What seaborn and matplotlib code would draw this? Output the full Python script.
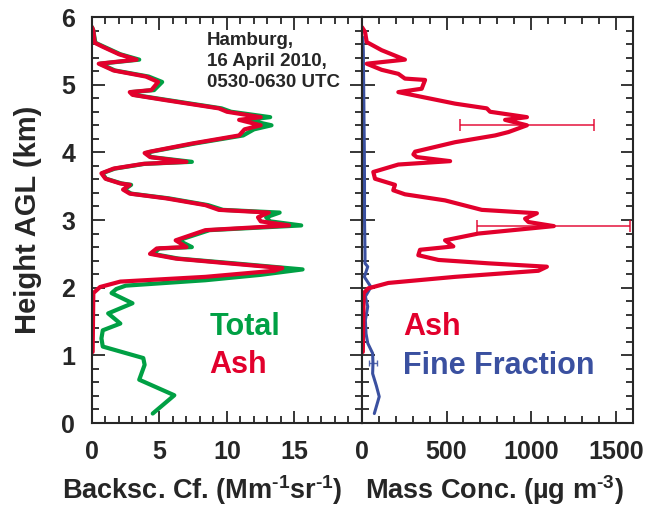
import matplotlib
matplotlib.use("Agg")
import matplotlib.pyplot as plt
from matplotlib.ticker import MultipleLocator
import seaborn as sns
import pandas as pd

# --- Backscatter coefficient (Mm^-1 sr^-1) versus height (km) ---
total_height = [5.85, 5.80, 5.62, 5.56, 5.45, 5.37, 5.31, 5.21, 5.12, 5.04, 4.92, 4.89,
                4.85, 4.77, 4.65, 4.60, 4.52, 4.48, 4.40, 4.34, 4.25, 4.13, 4.01, 3.99,
                3.93, 3.86, 3.83, 3.76, 3.69, 3.61, 3.54, 3.52, 3.45, 3.39, 3.32, 3.22,
                3.15, 3.11, 3.04, 2.98, 2.92, 2.85, 2.70, 2.60, 2.58, 2.50, 2.43, 2.36,
                2.27, 2.19, 2.11, 2.03, 1.98, 1.92, 1.77, 1.62, 1.47, 1.37, 1.25, 1.13,
                0.96, 0.86, 0.64, 0.41, 0.14]
total_bsc = [0.0, 0.1, 0.25, 0.9, 2.1, 3.5, 0.6, 1.7, 4.2, 5.2, 4.6, 2.9,
             3.1, 5.7, 9.6, 10.3, 13.2, 11.5, 13.3, 12.0, 11.2, 7.6, 4.4, 4.0,
             4.4, 7.4, 3.9, 1.7, 0.75, 1.05, 2.2, 2.9, 2.4, 2.9, 5.7, 8.6,
             9.7, 13.9, 12.9, 13.2, 15.5, 8.7, 6.4, 7.4, 5.0, 4.5, 6.4, 10.5,
             15.6, 12.5, 8.4, 2.5, 1.8, 1.45, 3.0, 1.2, 2.1, 0.8, 0.7, 0.8,
             3.8, 3.9, 3.5, 6.1, 4.5]

ash_height = [5.85, 5.80, 5.62, 5.56, 5.45, 5.37, 5.31, 5.21, 5.12, 5.04, 4.92, 4.89,
              4.85, 4.77, 4.65, 4.60, 4.52, 4.48, 4.40, 4.34, 4.25, 4.13, 4.01, 3.99,
              3.93, 3.86, 3.83, 3.76, 3.69, 3.61, 3.54, 3.52, 3.45, 3.39, 3.32, 3.22,
              3.15, 3.11, 3.04, 2.98, 2.92, 2.85, 2.70, 2.60, 2.58, 2.50, 2.43, 2.36,
              2.29, 2.25, 2.16, 2.09, 2.01, 1.92, 1.05]
ash_bsc = [0.0, 0.1, 0.2, 0.8, 2.0, 3.3, 0.5, 1.6, 4.0, 4.9, 4.4, 2.8,
           3.0, 5.5, 9.4, 10.0, 12.5, 10.9, 12.5, 11.3, 10.9, 7.4, 4.3, 3.9,
           4.3, 7.0, 3.8, 1.6, 0.7, 1.0, 2.1, 2.8, 2.3, 2.8, 5.5, 8.4,
           9.4, 13.1, 12.3, 12.5, 14.6, 8.4, 6.2, 7.0, 4.8, 4.3, 6.2, 10.1,
           14.1, 13.5, 8.4, 2.1, 0.6, 0.1, 0.05]

# --- Mass concentration (ug m^-3) versus height (km) ---
ash_mass_height = [5.85, 5.78, 5.63, 5.51, 5.37, 5.31, 5.22, 5.16, 5.09, 5.07, 4.94, 4.89,
                   4.82, 4.72, 4.65, 4.60, 4.52, 4.48, 4.40, 4.30, 4.25, 4.15, 4.01, 3.97,
                   3.93, 3.87, 3.82, 3.71, 3.61, 3.52, 3.44, 3.38, 3.29, 3.15, 3.10, 3.02,
                   2.97, 2.91, 2.80, 2.70, 2.61, 2.56, 2.48, 2.41, 2.36, 2.31, 2.25, 2.16,
                   2.07, 1.99, 1.92, 1.05]
ash_mass = [0, 18, 28, 116, 254, 28, 116, 215, 254, 373, 353, 215,
            353, 550, 738, 757, 975, 846, 975, 866, 787, 550, 314, 304,
            324, 521, 215, 67, 77, 195, 185, 254, 491, 708, 1034, 964,
            984, 1134, 688, 491, 540, 343, 333, 452, 747, 1093, 1043, 550,
            156, 37, 10, 5]

fine_height = [5.70, 5.50, 5.00, 4.50, 4.00, 3.50, 3.00, 2.50, 2.36, 2.31, 2.16, 2.01,
               1.87, 1.72, 1.52, 1.32, 1.18, 1.03, 0.88, 0.73, 0.55, 0.39, 0.14]
fine_mass = [5, 8, 10, 12, 14, 15, 15, 18, 18, 34, 14, 53,
             20, 34, 20, 24, 34, 63, 65, 63, 85, 102, 73]

# Uncertainty bars on the mass profiles
ash_err_height = [4.40, 2.91]
ash_err_center = [975, 1134]
ash_err_half = [395, 452]
fine_err_height = [0.88]
fine_err_center = [65]
fine_err_half = [22]

RED = "#E2002C"
GREEN = "#00A044"
BLUE = "#3A50A0"

sns.set_style("ticks")
plt.rcParams["font.family"] = ["Liberation Sans", "DejaVu Sans"]
plt.rcParams["font.weight"] = "bold"
plt.rcParams["mathtext.fontset"] = "custom"
plt.rcParams["mathtext.rm"] = "Liberation Sans:bold"
plt.rcParams["mathtext.bf"] = "Liberation Sans:bold"
plt.rcParams["mathtext.it"] = "Liberation Sans:bold"
plt.rcParams["mathtext.default"] = "bf"

fig = plt.figure(figsize=(6.45, 5.08), dpi=100)
ax1 = fig.add_axes([0.1426, 0.1673, 0.4186, 0.7992])
ax2 = fig.add_axes([0.5612, 0.1673, 0.4197, 0.7992])

df_total = pd.DataFrame({"h": total_height, "v": total_bsc})
df_ash = pd.DataFrame({"h": ash_height, "v": ash_bsc})
df_mass = pd.DataFrame({"h": ash_mass_height, "v": ash_mass})
df_fine = pd.DataFrame({"h": fine_height, "v": fine_mass})

sns.lineplot(data=df_total, x="v", y="h", orient="y", sort=False, estimator=None,
             color=GREEN, lw=3.0, ax=ax1, zorder=2)
sns.lineplot(data=df_ash, x="v", y="h", orient="y", sort=False, estimator=None,
             color=RED, lw=3.0, ax=ax1, zorder=3)

sns.lineplot(data=df_fine, x="v", y="h", orient="y", sort=False, estimator=None,
             color=BLUE, lw=2.2, ax=ax2, zorder=2)
sns.lineplot(data=df_mass, x="v", y="h", orient="y", sort=False, estimator=None,
             color=RED, lw=3.0, ax=ax2, zorder=3)
ax2.errorbar(ash_err_center, ash_err_height, xerr=ash_err_half, fmt="none",
             ecolor=RED, elinewidth=1.2, capsize=4, capthick=1.2, alpha=0.85, zorder=4)
ax2.errorbar(fine_err_center, fine_err_height, xerr=fine_err_half, fmt="none",
             ecolor=BLUE, elinewidth=1.0, capsize=2.5, capthick=1.0, alpha=0.85, zorder=4)

ax1.set_xlim(0, 20)
ax2.set_xlim(0, 1600)
for ax in (ax1, ax2):
    ax.set_ylim(0, 6)
    ax.yaxis.set_major_locator(MultipleLocator(1))
    ax.yaxis.set_minor_locator(MultipleLocator(0.2))
    ax.tick_params(which="both", direction="in", top=True, right=True,
                   bottom=True, left=True, width=1.3, labelsize=18)
    ax.tick_params(axis="x", pad=12)
    ax.tick_params(axis="y", pad=12)
    ax.tick_params(which="major", length=9)
    ax.tick_params(which="minor", length=5)
    for s in ax.spines.values():
        s.set_linewidth(1.5)
        s.set_zorder(5)
    ax.set_ylabel("")

ax1.set_xticks([0, 5, 10, 15])
ax1.xaxis.set_minor_locator(MultipleLocator(1))
ax2.set_xticks([0, 500, 1000, 1500])
ax2.xaxis.set_minor_locator(MultipleLocator(100))
ax2.tick_params(labelleft=False)

ax1.set_ylabel("Height AGL (km)", fontsize=21, fontweight="bold", labelpad=14)
ax1.set_xlabel(r"Backsc. Cf. (Mm$^{\text{-1}}$sr$^{\text{-1}}$)", fontsize=19.5,
               fontweight="bold")
ax2.set_xlabel(r"Mass Conc. (µg m$^{\text{-3}}$)", fontsize=19.5, fontweight="bold")
ax1.xaxis.set_label_coords(0.41, -0.123)
ax2.xaxis.set_label_coords(0.49, -0.123)

ax1.text(8.5, 5.78, "Hamburg,\n16 April 2010,\n0530-0630 UTC", fontsize=13.5,
         fontweight="bold", va="top", ha="left", linespacing=1.3)
ax1.text(8.7, 1.30, "Total", color=GREEN, fontsize=22, fontweight="bold", va="baseline")
ax1.text(8.7, 0.74, "Ash", color=RED, fontsize=22, fontweight="bold", va="baseline")
ax2.text(244, 1.30, "Ash", color=RED, fontsize=22, fontweight="bold", va="baseline")
ax2.text(244, 0.73, "Fine Fraction", color=BLUE, fontsize=22, fontweight="bold", va="baseline")

fig.savefig("out.png", dpi=100)
